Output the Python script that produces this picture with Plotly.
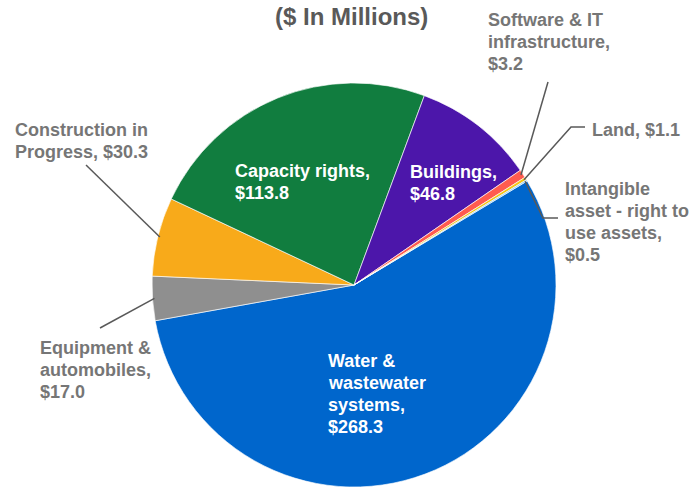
import math
import plotly.graph_objects as go

# ---- data ----
categories = ["Water & wastewater systems", "Equipment & automobiles", "Construction in Progress",
              "Capacity rights", "Buildings", "Software & IT infrastructure", "Land",
              "Intangible asset - right to use assets"]
values = [268.3, 17.0, 30.3, 113.8, 46.8, 3.2, 1.1, 0.5]
label_lines = [["Water &", "wastewater", "systems,", "$268.3"],
               ["Equipment &", "automobiles,", "$17.0"],
               ["Construction in", "Progress, $30.3"],
               ["Capacity rights,", "$113.8"],
               ["Buildings,", "$46.8"],
               ["Software & IT", "infrastructure,", "$3.2"],
               ["Land, $1.1"],
               ["Intangible", "asset - right to", "use assets,", "$0.5"]]
colors = ["#0066CC", "#8F8F8F", "#F8AA1A", "#117D3F", "#4C16AA", "#FF5B4F", "#F5C518", "#80C4EE"]
title_text = "($ In Millions)"

# ---- layout geometry ----
W, H = 694, 487
R = 202
CX, CY = 354, H - R          # pixel centre (y from top)
ROT = 59.0
LINE = 22.0
FONT = "Arial, Liberation Sans, sans-serif"

def px_to_paper(x, y):
    return x / W, 1 - y / H

fig = go.Figure(go.Pie(
    labels=categories, values=values, sort=False, direction="clockwise", rotation=ROT,
    marker=dict(colors=colors, line=dict(color="rgba(255,255,255,0.8)", width=0.8)),
    textinfo="none", hoverinfo="label+value", showlegend=False,
    domain=dict(x=[(CX - R) / W, (CX + R) / W], y=[0, 2 * R / H]),
))

total = sum(values)
mid = []
acc = 0.0
for v in values:
    mid.append(ROT + (acc + v / 2) / total * 360.0)
    acc += v

def edge_point(i, r=R):
    a = math.radians(mid[i])
    return CX + r * math.sin(a), CY - r * math.cos(a)

# label placement: (x_left_px, y_center_px, inside?)
placement = {
    0: (326, 394, True),
    1: (38, 370, False),
    2: (13, 141, False),
    3: (233, 182, True),
    4: (408, 183, True),
    5: (486, 42, False),
    6: (590, 130, False),
    7: (563, 222, False),
}
annotations = []
for i, (lx, ly, inside) in placement.items():
    lines = label_lines[i]
    n = len(lines)
    for k, t in enumerate(lines):
        yc = ly + (k - (n - 1) / 2) * LINE
        x, y = px_to_paper(lx, yc)
        annotations.append(dict(
            x=x, y=y, xref="paper", yref="paper", xanchor="left", yanchor="middle",
            align="left", showarrow=False, text="<b>" + t + "</b>",
            font=dict(family=FONT, size=18, color="white" if inside else "#767676"),
        ))

annotations.append(dict(
    x=px_to_paper(351, 0)[0], y=px_to_paper(0, 16)[1], xref="paper", yref="paper",
    xanchor="center", yanchor="middle", showarrow=False, text="<b>" + title_text + "</b>",
    font=dict(family=FONT, size=24, color="#595959"),
))

# leader lines: end points (label side) in pixels
leaders = {
    5: [(548, 82)],
    6: [(571, 127), (585, 127)],
    7: [(543, 218), (558, 218)],
    2: [(86, 165)],
    1: [(100, 328)],
}
shapes = []
for i, pts in leaders.items():
    sx, sy = edge_point(i, R - 2)
    path_pts = [(sx, sy)] + pts
    coords = [px_to_paper(px, py) for px, py in path_pts]
    path = "M " + " L ".join(f"{x:.5f},{y:.5f}" for x, y in coords)
    shapes.append(dict(type="path", xref="paper", yref="paper", path=path,
                       line=dict(color="#595959", width=1.5)))

fig.update_layout(
    width=W, height=H, margin=dict(l=0, r=0, t=0, b=0),
    paper_bgcolor="white", plot_bgcolor="white",
    annotations=annotations, shapes=shapes,
)
fig.write_html("out.html", config={"displayModeBar": False},
               post_script="document.body.style.margin='0';document.body.style.overflow='hidden';")
